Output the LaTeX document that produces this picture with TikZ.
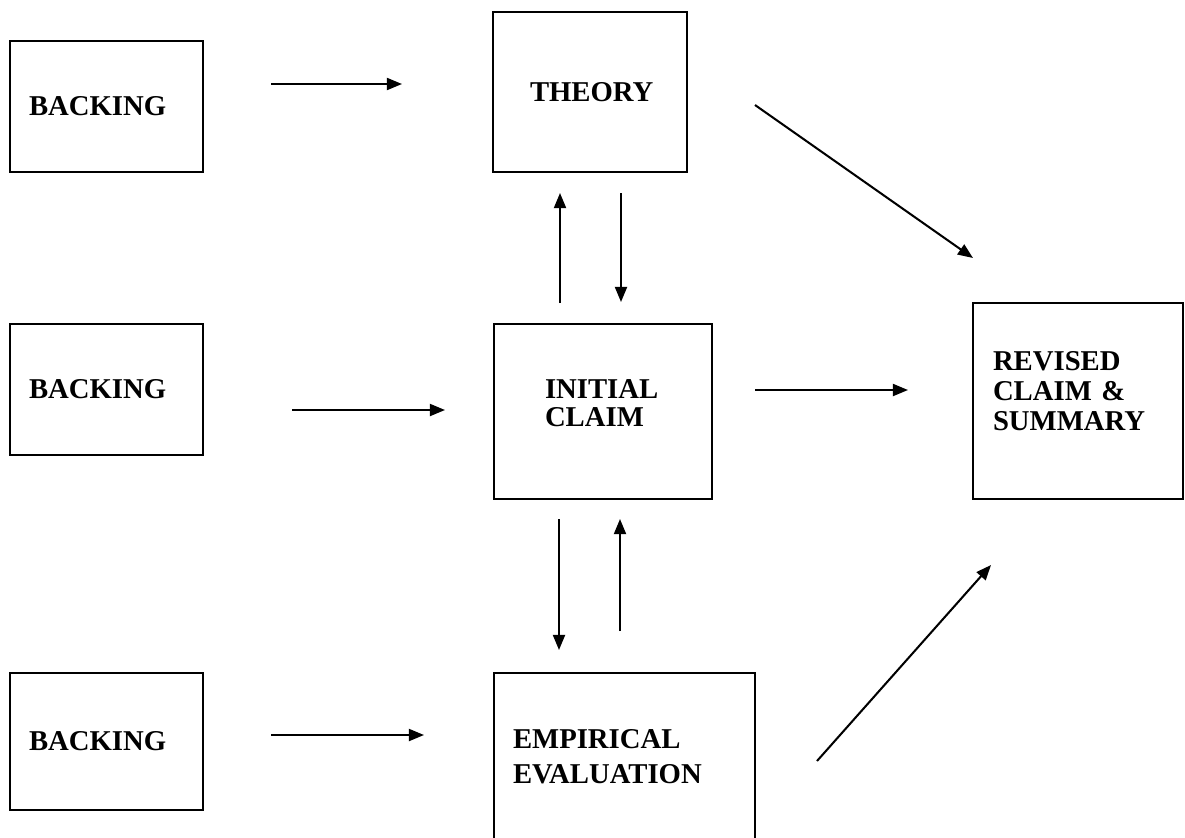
\documentclass[tikz,border=0pt,12pt]{standalone}
\usepackage{fontspec}
\setmainfont{Liberation Serif}
\usetikzlibrary{arrows.meta}
\newcommand{\pxu}{0.418pt}
\tikzstyle{box} = [rectangle, draw, line width=0.85pt, align=left, inner ysep=0pt, font=\bfseries]
\tikzset{edge/.style = {
    line width=0.85pt,
    -{Triangle[length=6.3pt, width=5pt]},
  }
}

\begin{document}
\begin{tikzpicture}[x=0.418pt, y=-0.418pt]
            \useasboundingbox (0,0) rectangle (1185,837);
            % boxes
            \node[box, minimum width=193*\pxu, minimum height=131*\pxu, inner xsep=19*\pxu, text width=155*\pxu] (back1) at (106.5, 106.5) {BACKING};
            \node[box, minimum width=193*\pxu, minimum height=131*\pxu, inner xsep=19*\pxu, text width=155*\pxu] (back2) at (106.5, 389.5) {BACKING};
            \node[box, minimum width=193*\pxu, minimum height=137*\pxu, inner xsep=19*\pxu, text width=155*\pxu] (back3) at (106.5, 741.5) {BACKING};
            \node[box, minimum width=194*\pxu, minimum height=160*\pxu, inner xsep=37*\pxu, text width=120*\pxu] (theory) at (590, 92) {THEORY};
            \node[box, minimum width=218*\pxu, minimum height=175*\pxu, inner xsep=51*\pxu, text width=116*\pxu, text depth=18.4pt, font={\fontsize{12}{11.5}\selectfont\bfseries}] (claim) at (603, 411.5) {INITIAL\\CLAIM};
            \node[box, minimum width=261*\pxu, minimum height=167*\pxu, inner xsep=19*\pxu, text width=223*\pxu, font={\fontsize{12}{14.6}\selectfont\bfseries}] (empir) at (624.5, 756.5) {EMPIRICAL\\EVALUATION};
            \node[box, minimum width=210*\pxu, minimum height=196*\pxu, inner xsep=20*\pxu, text width=170*\pxu, text depth=33.6pt, font={\fontsize{12}{12.5}\selectfont\bfseries}] (revised) at (1078, 401) {REVISED\\CLAIM \&\\SUMMARY};

            % arrow ends
            \coordinate (b1out) at (271, 84);
            \coordinate (thin) at (402, 84);
            \coordinate (b2out) at (292, 410);
            \coordinate (clin) at (445, 410);
            \coordinate (b3out) at (271, 735);
            \coordinate (emin) at (424, 735);
            \coordinate (clup) at (560, 303);
            \coordinate (thbot) at (560, 193);
            \coordinate (thdn) at (621, 193);
            \coordinate (cltop) at (621, 302);
            \coordinate (cldn) at (559, 519);
            \coordinate (emtop) at (559, 650);
            \coordinate (emup) at (620, 631);
            \coordinate (clbot) at (620, 519);
            \coordinate (clout) at (755, 390);
            \coordinate (rvin) at (908, 390);
            \coordinate (thout) at (755, 105);
            \coordinate (rvtop) at (973, 258);
            \coordinate (emout) at (817, 761);
            \coordinate (rvbot) at (991, 565);

            %edges
            \draw[edge] (b1out) to (thin);
            \draw[edge] (b2out) to (clin);
            \draw[edge] (b3out) to (emin);
            \draw[edge] (clup) to (thbot);
            \draw[edge] (thdn) to (cltop);
            \draw[edge] (cldn) to (emtop);
            \draw[edge] (emup) to (clbot);
            \draw[edge] (clout) to (rvin);
            \draw[edge] (thout) to (rvtop);
            \draw[edge] (emout) to (rvbot);
\end{tikzpicture}
\end{document}
